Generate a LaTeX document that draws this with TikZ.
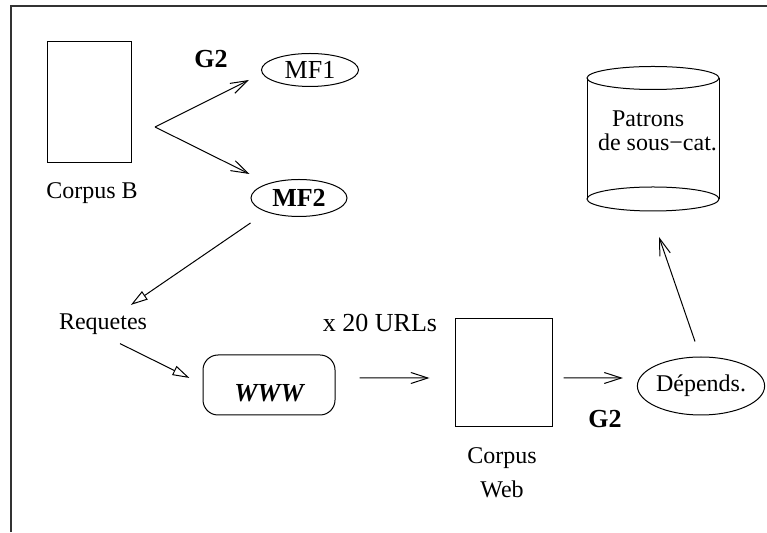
\documentclass[tikz,border=0pt]{standalone}
\usepackage{fontspec}
\setmainfont{Liberation Serif}
\usetikzlibrary{arrows.meta,shapes.geometric}

\tikzset{
  small/.style={font=\fontsize{24pt}{28pt}\selectfont, inner sep=0pt},
  big/.style={font=\fontsize{26pt}{30pt}\selectfont, inner sep=0pt},
  oval/.style={draw, ellipse, inner sep=0pt, line width=1pt},
  box/.style={draw, rectangle, inner sep=0pt, line width=1pt},
  stick/.style={line width=1pt, -{Straight Barb[length=17pt,width=11pt]}},
  hollow/.style={line width=1pt, -{Triangle[open,length=17pt,width=10pt]}},
  frame/.style={line width=1.6pt, black!80}
}

\begin{document}
\begin{tikzpicture}[x=10pt,y=10pt]
%\draw[step=1,gray,very thin] (0,0) grid (76.7,53.2); %background grid
\useasboundingbox (0,0) rectangle (76.7,53.2);

\draw[frame] (1.1,0) -- (1.1,52.6) -- (76.7,52.6);

% corpus B
\node[box, minimum width=84pt, minimum height=121pt] (cb) at (8.9,42.95) {};
\node[small] (cblbl) at (9.2,33.9) {Corpus B};
\coordinate (fork) at (15.5,40.5);

\node[big] (g2a) at (21.1,47.3) {\bfseries G2};
\node[oval, big, minimum width=97pt, minimum height=33pt] (mf1) at (31.0,46.2) {MF1};
\node[oval, big, minimum width=96pt, minimum height=37pt] (mf2) at (29.9,33.4) {\bfseries MF2};

\draw[stick] (fork) -- ([xshift=-12pt,yshift=-10pt]mf1.west);
\draw[stick] (fork) -- ([xshift=-1pt,yshift=24pt]mf2.west);

% requetes et web
\node[small] (req) at (10.3,20.8) {Requetes};
\draw[hollow, shorten >=15pt] ([yshift=-25pt]mf2.west) -- (req);

\node[box, rounded corners=15pt, minimum width=132pt, minimum height=60pt,
      big, text height=33pt, text depth=0pt] (www) at (26.9,14.7) {\bfseries\itshape WWW};
\draw[hollow] ([xshift=17pt,yshift=-9pt]req.south) -- ([xshift=-13pt,yshift=7pt]www.west);

\node[big] (urls) at (38.0,20.9) {x 20 URLs};

% corpus web
\node[box, minimum width=97pt, minimum height=108pt] (cw) at (50.35,15.9) {};
\node[small, align=center, font=\fontsize{24pt}{34pt}\selectfont] (cwlbl) at (50.2,5.9) {Corpus\\Web};
\draw[stick] ([xshift=24pt,yshift=7pt]www.east) -- ([xshift=-25pt,yshift=-5pt]cw.west);

\node[big] (g2b) at (60.5,11.3) {\bfseries G2};
\node[oval, small, minimum width=109pt, minimum height=58pt] (dep) at (70.1,14.6) {Dépends.};
\draw[stick] ([xshift=11pt,yshift=-5pt]cw.east) -- ([xshift=-14pt,yshift=8pt]dep.west);

% patrons
\draw[line width=1pt] (65.3,45.4) ellipse (6.6 and 1.15);
\draw[line width=1pt] (65.3,33.3) ellipse (6.6 and 1.2);
\draw[line width=1pt] (58.7,45.4) -- (58.7,33.3);
\draw[line width=1pt] (71.9,45.4) -- (71.9,33.3);
\node[small, align=left, font=\fontsize{24pt}{24pt}\selectfont] (pat) at (65.75,40.1)
  {\hspace*{14pt}Patrons\\de sous−cat.};
\coordinate (cylbot) at (65.9,29.5);
\draw[stick] ([xshift=-6pt,yshift=15pt]dep.north) -- (cylbot);

\end{tikzpicture}
\end{document}
